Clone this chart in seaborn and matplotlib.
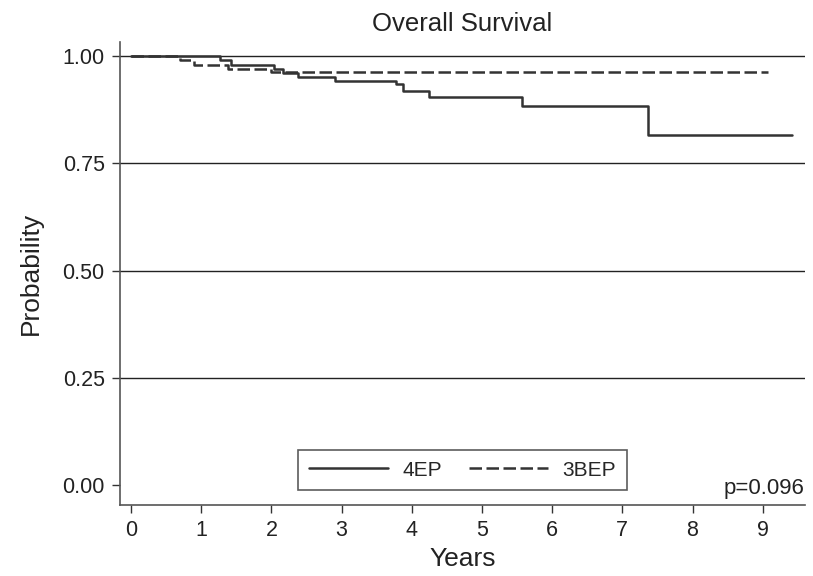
import numpy as np
import pandas as pd
import matplotlib
matplotlib.use("Agg")
import matplotlib.pyplot as plt
import seaborn as sns
from matplotlib import font_manager

# --- data ---
t_4ep = [0.0, 1.27, 1.43, 2.03, 2.16, 2.38, 2.9, 3.77, 3.87, 4.25, 5.57, 7.36, 9.42]
s_4ep = [1.0, 0.990, 0.979, 0.970, 0.960, 0.951, 0.942, 0.935, 0.919, 0.905, 0.883, 0.816, 0.816]
t_3bep = [0.0, 0.70, 0.90, 1.38, 2.0, 9.07]
s_3bep = [1.0, 0.990, 0.979, 0.970, 0.963, 0.963]
groups = ["4EP", "3BEP"]
x_ticks = [0, 1, 2, 3, 4, 5, 6, 7, 8, 9]
y_ticks = [0.00, 0.25, 0.50, 0.75, 1.00]
p_text = "p=0.096"

df = pd.concat([
    pd.DataFrame({"Years": t_4ep, "Probability": s_4ep, "group": groups[0]}),
    pd.DataFrame({"Years": t_3bep, "Probability": s_3bep, "group": groups[1]}),
], ignore_index=True)

sns.set_theme(style="white")
avail = {f.name for f in font_manager.fontManager.ttflist}
fam = "Liberation Sans Narrow" if "Liberation Sans Narrow" in avail else "Liberation Sans"
plt.rcParams["font.family"] = [fam, "DejaVu Sans"]

fig = plt.figure(figsize=(8.13, 5.76), dpi=100)
ax = fig.add_axes([0.1476, 0.1233, 0.990 - 0.1476, 0.927 - 0.1233])

for g in y_ticks[1:]:
    ax.axhline(g, color="#222222", lw=1.0, zorder=1)

sns.lineplot(data=df, x="Years", y="Probability", hue="group", style="group",
             palette={"4EP": "#333333", "3BEP": "#333333"},
             dashes={"4EP": "", "3BEP": (5, 1.8)},
             drawstyle="steps-post", lw=1.8, ax=ax, estimator=None, sort=False,
             zorder=3)

ax.set_xlim(-0.157, 9.6)
ax.set_ylim(-0.047, 1.033)
ax.set_xticks(x_ticks)
ax.set_yticks(y_ticks)
ax.set_yticklabels([f"{v:.2f}" for v in y_ticks])
ax.tick_params(axis="both", direction="out", length=6, width=1, color="#333333",
               labelsize=15.5, labelcolor="#222222", left=True, bottom=True, pad=5)
for side in ["top", "right"]:
    ax.spines[side].set_visible(False)
for side in ["left", "bottom"]:
    ax.spines[side].set_color("#555555")
    ax.spines[side].set_linewidth(1.2)

ax.set_xlabel("Years", fontsize=19, color="#222222", labelpad=4)
ax.set_ylabel("Probability", fontsize=19, color="#222222", labelpad=14)
ax.set_title("Overall Survival", fontsize=18.5, color="#222222", pad=8)

ax.legend_.remove()
handles, labels = ax.get_legend_handles_labels()
leg = ax.legend(handles, labels, loc="lower center", bbox_to_anchor=(0.5, 0.032),
                borderaxespad=0, ncol=2, fontsize=15, frameon=True, fancybox=False,
                edgecolor="#333333", handlelength=3.8, columnspacing=1.3,
                borderpad=0.5, handletextpad=0.7)
leg.get_frame().set_linewidth(1.2)

ax.text(1.0, 0.012, p_text, transform=ax.transAxes, ha="right", va="bottom",
        fontsize=16, color="#222222")

fig.savefig("out.png", dpi=100)
